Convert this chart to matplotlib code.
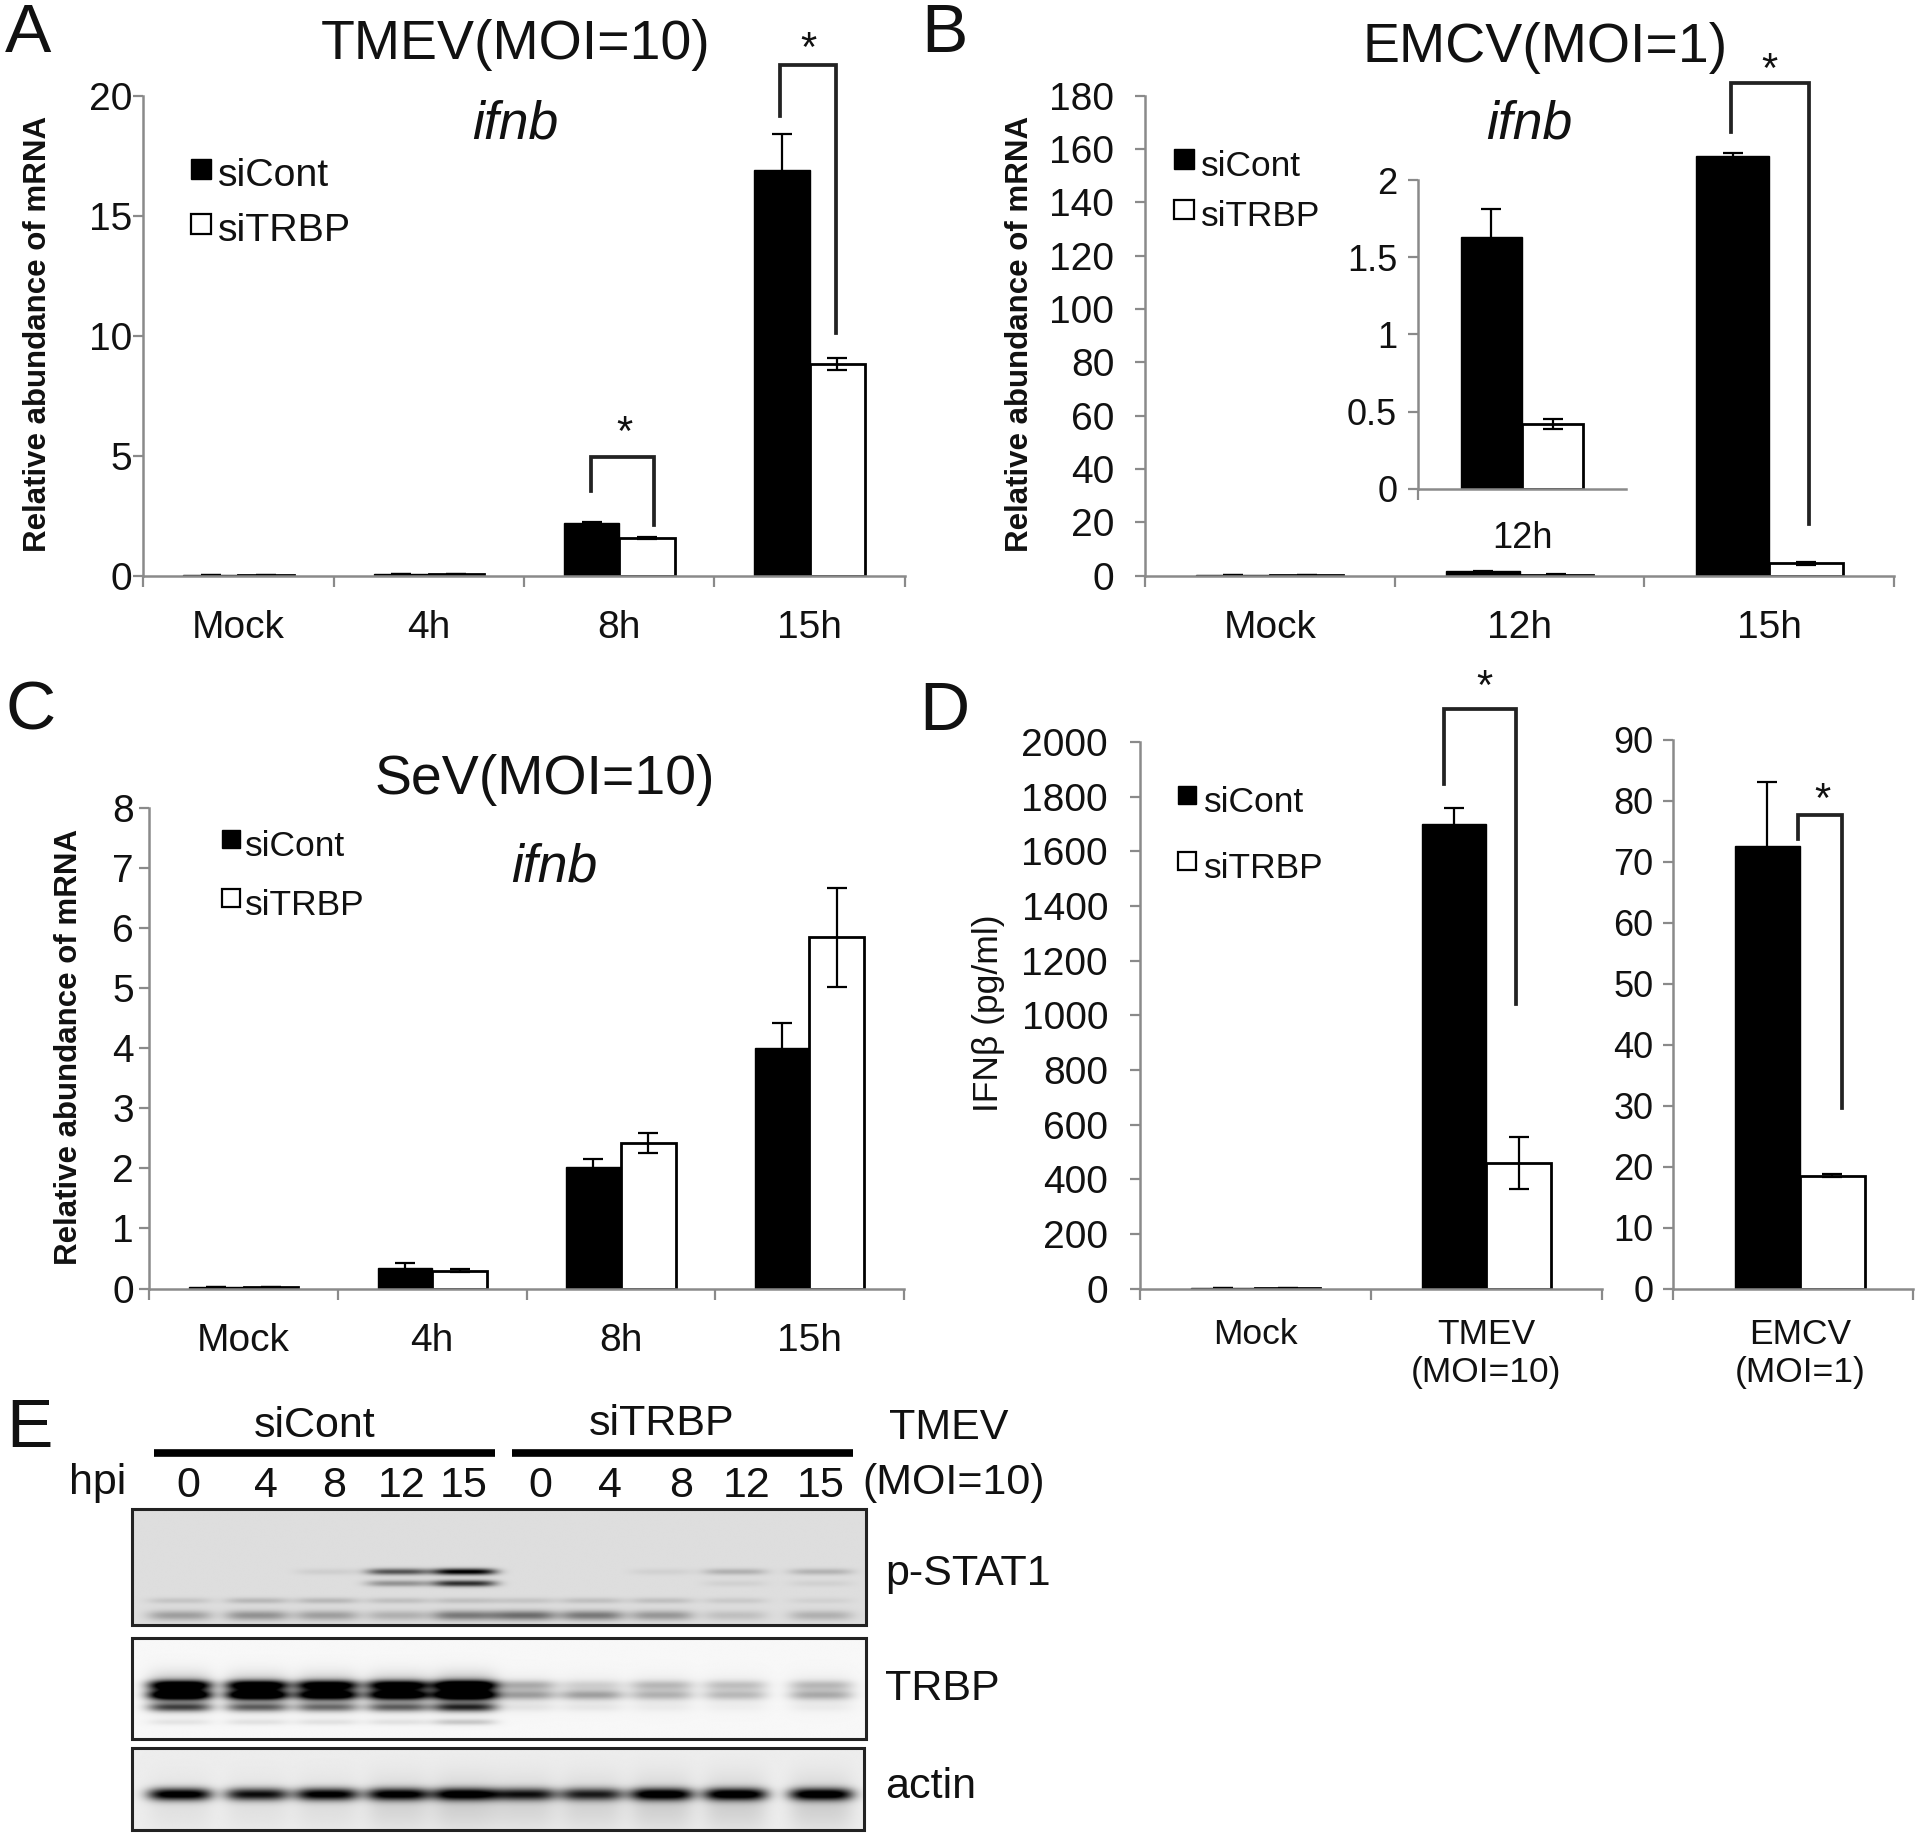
#%%
import numpy as np
import matplotlib
matplotlib.use('Agg')
import matplotlib.pyplot as plt
from matplotlib.patches import Rectangle

plt.rcParams['font.family'] = ['Liberation Sans', 'DejaVu Sans']

W, H = 1568.0, 1499.0
GREY = '#8a8a8a'
TXT = '#111111'

# panel A
a_cats = ['Mock', '4h', '8h', '15h']
a_cont = [0.02, 0.08, 2.2, 16.9]
a_trbp = [0.02, 0.08, 1.58, 8.8]
a_cont_err = [0, 0.01, 0.05, 1.5]
a_trbp_err = [0, 0.01, 0.05, 0.25]
# panel B
b_cats = ['Mock', '12h', '15h']
b_cont = [0.3, 1.63, 157.5]
b_trbp = [0.3, 0.42, 4.6]
b_cont_err = [0, 0.18, 1.0]
b_trbp_err = [0, 0.03, 0.5]
# panel B inset
ins_cats = ['12h']
ins_cont = [1.63]
ins_trbp = [0.42]
ins_cont_err = [0.18]
ins_trbp_err = [0.03]
# panel C
c_cats = ['Mock', '4h', '8h', '15h']
c_cont = [0.02, 0.35, 2.03, 4.0]
c_trbp = [0.02, 0.3, 2.42, 5.85]
c_cont_err = [0, 0.08, 0.12, 0.42]
c_trbp_err = [0, 0.02, 0.17, 0.83]
# panel D
d_cats = ['Mock', 'TMEV\n(MOI=10)']
d_cont = [2, 1700]
d_trbp = [2, 460]
d_cont_err = [0, 60]
d_trbp_err = [0, 95]
d2_cats = ['EMCV\n(MOI=1)']
d2_cont = [72.5]
d2_trbp = [18.5]
d2_cont_err = [10.5]
d2_trbp_err = [0.2]
# panel E, one value per lane
hpi = ['0', '4', '8', '12', '15', '0', '4', '8', '12', '15']
lanes = [147, 210, 267, 325, 379, 428, 483, 540, 600, 670]
pstat_top = [0, 0, .06, .55, .9, 0, 0, .05, .18, .17]
pstat_mid = [0, 0, 0, .3, .7, 0, 0, 0, .05, .05]
pstat_low = [.1, .15, .15, .12, .12, .1, .12, .12, .08, .05]
pstat_bot = [.25, .3, .25, .18, .4, .45, .4, .28, .12, .18]
trbp_a = [1.0, 1.0, .95, .95, 1.1, .25, .12, .2, .18, .2]
trbp_b = [1.1, 1.1, 1.0, 1.0, 1.1, .3, .3, .22, .2, .25]
trbp_c = [.6, .5, .45, .5, .7, .06, .05, .03, .02, .03]
trbp_d = [.07, .08, .08, .08, .18, 0, 0, 0, 0, 0]
trbp_smear = [.35, .3, .3, .3, .4, .06, .05, .06, .05, .06]
actin = [1.0, .85, .95, .95, 1.0, .8, .75, 1.0, 1.0, 1.0]
actin_smear = [.05, .05, .06, .1, .12, .1, .1, .12, .12, .12]


def px_axes(fig, x0, ytop, x1, ybot):
    return fig.add_axes([x0 / W, 1 - ybot / H, (x1 - x0) / W, (ybot - ytop) / H])


def bars(ax, cats, cont, trbp, cont_err, trbp_err, ymax, yticks, ylabels, width,
         fs=28, cap=7, ypad=1, xpad=25, shift=0.0):
    x = np.arange(len(cats)) + shift
    ax.bar(x - width / 2, cont, width, color='k', edgecolor='k', lw=1)
    ax.bar(x + width / 2, trbp, width, color='w', edgecolor='k', lw=2)
    ax.errorbar(x - width / 2, cont, yerr=cont_err, fmt='none', ecolor='k', elinewidth=1.6, capsize=cap, capthick=1.6)
    ax.errorbar(x + width / 2, trbp, yerr=trbp_err, fmt='none', ecolor='k', elinewidth=1.6, capsize=cap, capthick=1.6)
    ax.set_xlim(-0.5, len(cats) - 0.5)
    ax.set_ylim(0, ymax)
    ax.set_yticks(yticks)
    ax.set_yticklabels(ylabels, fontsize=fs, color=TXT)
    ax.set_xticks(np.arange(len(cats) + 1) - 0.5)
    ax.set_xticklabels([])
    ax.set_xticks(x, cats, minor=True, fontsize=fs, color=TXT)
    ax.tick_params(axis='x', which='major', length=8, width=1.6, color=GREY)
    ax.tick_params(axis='x', which='minor', length=0, pad=xpad)
    ax.tick_params(axis='y', length=7, width=1.6, color=GREY, pad=ypad)
    for s in ['top', 'right']:
        ax.spines[s].set_visible(False)
    for s in ['left', 'bottom']:
        ax.spines[s].set_color(GREY)
        ax.spines[s].set_linewidth(1.8)
    ax.patch.set_alpha(0)


def blot(ov, x0, x1, y0, y1, bg, bands):
    # bands: (lane values, y centre, half height)
    xs = np.arange(x0, x1, 0.5)
    ys = np.arange(y0, y1, 0.5)
    gx, gy = np.meshgrid(xs, ys)
    dark = np.zeros_like(gx)
    for vals, yc, hh in bands:
        for lx, v in zip(lanes, vals):
            dark += v * np.exp(-((gx - lx) / 26.0) ** 4) * np.exp(-((gy - yc) / hh) ** 2)
    img = np.clip(bg - dark, 0, 1)
    ov.imshow(img, cmap='gray', vmin=0, vmax=1, extent=[x0, x1, y1, y0], aspect='auto', interpolation='bilinear', zorder=2)
    ov.add_patch(Rectangle((x0, y0), x1 - x0, y1 - y0, fill=False, ec='#222222', lw=2.2, zorder=3))


def bracket(ov, x0, x1, ytop, yl, yr, star_x, star_y):
    ov.plot([x0, x0, x1, x1], [yl, ytop, ytop, yr], color='#222222', lw=2.7, zorder=5, solid_joinstyle='miter')
    ov.text(star_x, star_y, '*', fontsize=30, ha='center', va='center', color=TXT)


def legend(ov, x, y1, y2, tx, size, fs):
    ov.add_patch(Rectangle((x, y1 - size / 2), size, size, fc='k', ec='k', lw=1))
    ov.add_patch(Rectangle((x, y2 - size / 2), size, size, fc='w', ec='k', lw=1.6))
    ov.text(tx, y1 + 6, 'siCont', fontsize=fs, va='center', color=TXT)
    ov.text(tx, y2 + 6, 'siTRBP', fontsize=fs, va='center', color=TXT)


fig = plt.figure(figsize=(19.2, 18.36), dpi=100)

#%% bar panels
ax = px_axes(fig, 117, 78, 739, 470)
bars(ax, a_cats, a_cont, a_trbp, a_cont_err, a_trbp_err, 20, [0, 5, 10, 15, 20], ['0', '5', '10', '15', '20'], 0.29)
ax = px_axes(fig, 935, 78, 1547, 470)
bt = list(range(0, 181, 20))
bars(ax, b_cats, b_cont, b_trbp, b_cont_err, b_trbp_err, 180, bt, [str(v) for v in bt], 0.295, ypad=15)
ax = px_axes(fig, 1158, 147, 1328, 399)
bars(ax, ins_cats, ins_cont, ins_trbp, ins_cont_err, ins_trbp_err, 2, [0, 0.5, 1, 1.5, 2],
     ['0', '0.5', '1', '1.5', '2'], 0.295, fs=26, ypad=8, xpad=23)
ax.set_xticks([-0.5], minor=False)
ax.spines['bottom'].set_bounds(-0.5, 0.5)
ax = px_axes(fig, 122, 660, 738, 1052)
ct = list(range(0, 9))
bars(ax, c_cats, c_cont, c_trbp, c_cont_err, c_trbp_err, 8, ct, [str(v) for v in ct], 0.29, ypad=4)
ax = px_axes(fig, 931, 606, 1308, 1052)
dt = list(range(0, 2001, 200))
bars(ax, d_cats, d_cont, d_trbp, d_cont_err, d_trbp_err, 2000, dt, [str(v) for v in dt], 0.28, ypad=16)
ax.tick_params(axis='x', which='minor', labelsize=25.5, pad=21)
ax = px_axes(fig, 1366, 604, 1562, 1052)
d2t = list(range(0, 91, 10))
bars(ax, d2_cats, d2_cont, d2_trbp, d2_cont_err, d2_trbp_err, 90, d2t, [str(v) for v in d2t], 0.27,
     fs=26, ypad=7, shift=0.03)
ax.tick_params(axis='x', which='minor', labelsize=25.5, pad=21)

#%% overlay in picture coordinates
ov = fig.add_axes([0, 0, 1, 1], zorder=10)
ov.patch.set_alpha(0)

blot(ov, 108, 707, 1232, 1327, 0.87, [(pstat_top, 1283.5, 2.6), (pstat_mid, 1293, 2.6), (pstat_low, 1307, 2.5), (pstat_bot, 1319, 4)])
blot(ov, 108, 707, 1337, 1420, 0.97, [(trbp_a, 1376, 4), (trbp_b, 1384, 4), (trbp_c, 1394, 3.5), (trbp_d, 1406, 2.5), (trbp_smear, 1381, 13)])
blot(ov, 108, 706, 1427, 1494, 0.93, [(actin, 1465, 5), (actin_smear, 1472, 22)])
ov.set_xlim(0, W)
ov.set_ylim(H, 0)
ov.axis('off')

for letter, x, y in [('A', 23, 28), ('B', 771, 28), ('C', 25, 581), ('D', 771, 581), ('E', 24, 1167)]:
    ov.text(x, y, letter, fontsize=50, ha='center', va='center', color=TXT)

ov.text(421, 37, 'TMEV(MOI=10)', fontsize=40, ha='center', va='center', color=TXT)
ov.text(1262, 39, 'EMCV(MOI=1)', fontsize=40, ha='center', va='center', color=TXT)
ov.text(445, 637, 'SeV(MOI=10)', fontsize=40, ha='center', va='center', color=TXT)
for x, y in [(421, 102), (1249, 102), (453, 708)]:
    ov.text(x, y, 'ifnb', fontsize=38.5, style='italic', ha='center', va='center', color=TXT)

for x, y in [(31, 273), (833, 273), (56, 855)]:
    ov.text(x, y, 'Relative abundance of mRNA', fontsize=22.5, fontweight='bold', rotation=90, ha='center', va='center', color=TXT)
ov.text(807, 827, 'IFN\u03b2 (pg/ml)', fontsize=25.5, rotation=90, ha='center', va='center', color=TXT)

legend(ov, 156, 138, 183, 178, 16, 28.3)
legend(ov, 959, 130, 171, 981, 16, 25.4)
legend(ov, 181, 685, 733, 200, 15, 25.5)
legend(ov, 962, 649, 703, 983, 15, 25.5)

bracket(ov, 483, 534, 373, 401, 429, 510, 354)
bracket(ov, 637, 683, 53, 95, 272, 660, 41)
bracket(ov, 1414, 1477, 68, 108, 428, 1445, 58)
bracket(ov, 1179, 1238, 579, 640, 820, 1212, 562)
bracket(ov, 1468, 1504, 665, 685, 905, 1488, 654)

# panel E labels
ov.text(257, 1164, 'siCont', fontsize=31, ha='center', va='center', color=TXT)
ov.text(540, 1163, 'siTRBP', fontsize=31, ha='center', va='center', color=TXT)
ov.text(775, 1166, 'TMEV', fontsize=31, ha='center', va='center', color=TXT)
ov.text(779, 1211, '(MOI=10)', fontsize=31, ha='center', va='center', color=TXT)
ov.text(80, 1211, 'hpi', fontsize=31, ha='center', va='center', color=TXT)
hx = [154, 217, 273, 328, 379, 441, 498, 556, 610, 670]
for x, lab in zip(hx, hpi):
    ov.text(x, 1213, lab, fontsize=31, ha='center', va='center', color=TXT)
ov.plot([126, 404], [1186, 1186], color='k', lw=5.5, solid_capstyle='butt')
ov.plot([418, 697], [1186, 1186], color='k', lw=5.5, solid_capstyle='butt')
ov.text(723, 1285, 'p-STAT1', fontsize=31, va='center', color=TXT)
ov.text(723, 1379, 'TRBP', fontsize=31, va='center', color=TXT)
ov.text(723, 1459, 'actin', fontsize=31, va='center', color=TXT)

fig.savefig('out.png', dpi=100, facecolor='white')
